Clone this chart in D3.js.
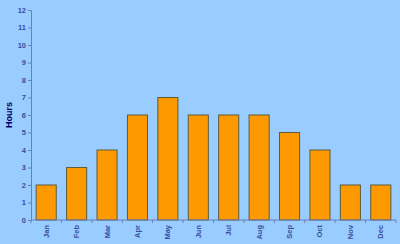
<!DOCTYPE html>
<html>
<head>
<meta charset="utf-8">
<script src="https://cdn.jsdelivr.net/npm/d3@7"></script>
<style>
  body { margin:0; background:#99ccff; }
  svg { display:block; }
</style>
</head>
<body>
<script>
const months=["Jan","Feb","Mar","Apr","May","Jun","Jul","Aug","Sep","Oct","Nov","Dec"]
const hours=[2,3,4,6,7,6,6,6,5,4,2,2]
const yTicks=[0,1,2,3,4,5,6,7,8,9,10,11,12]

const width=400
const height=244
const margin={top:10,right:4,bottom:24,left:31}

const svg=d3.select("body").append("svg")
            .attr("width",width)
            .attr("height",height)
            .style("background","#99ccff")

const x=d3.scaleBand()
          .domain(months)
          .range([margin.left,width-margin.right])
          .paddingInner(0.34)
          .paddingOuter(0.17)

const y=d3.scaleLinear()
          .domain([0,12])
          .range([height-margin.bottom,margin.top])

const axisColor="#6a7fb8"
const textColor="#3a4ea0"

// y axis
const yAxis=svg.append("g")
   .attr("transform",`translate(${margin.left},0)`)
   .call(d3.axisLeft(y).tickValues(yTicks).tickSize(3).tickPadding(2))
yAxis.select(".domain").attr("stroke",axisColor)
yAxis.selectAll(".tick line").attr("stroke",axisColor)
yAxis.selectAll("text")
   .attr("fill",textColor)
   .style("font-family","Arial, 'Liberation Sans', sans-serif")
   .style("font-size","7.5px")
   .style("font-weight","bold")

// bars
svg.selectAll("rect.bar")
   .data(hours)
   .enter()
   .append("rect")
   .attr("class","bar")
   .attr("x",(d,i)=>x(months[i]))
   .attr("y",d=>y(d))
   .attr("width",x.bandwidth())
   .attr("height",d=>y(0)-y(d))
   .attr("fill","#ff9900")
   .attr("stroke","#5e5a3a")
   .attr("stroke-width",1)

// x axis with ticks at category edges
const xg=svg.append("g").attr("transform",`translate(0,${y(0)})`)
xg.append("line")
  .attr("x1",margin.left).attr("x2",width-margin.right)
  .attr("stroke",axisColor)
xg.selectAll("line.tk")
  .data(d3.range(months.length+1))
  .enter()
  .append("line")
  .attr("class","tk")
  .attr("x1",i=>margin.left+i*x.step())
  .attr("x2",i=>margin.left+i*x.step())
  .attr("y1",0).attr("y2",3)
  .attr("stroke",axisColor)
xg.selectAll("text")
  .data(months)
  .enter()
  .append("text")
  .attr("transform",d=>`translate(${x(d)+x.bandwidth()/2+2.5},5) rotate(-90)`)
  .attr("text-anchor","end")
  .attr("fill",textColor)
  .style("font-family","Arial, 'Liberation Sans', sans-serif")
  .style("font-size","7.5px")
  .style("font-weight","bold")
  .text(d=>d)

svg.append("text")
   .attr("transform",`translate(12,${y(6)}) rotate(-90)`)
   .attr("text-anchor","middle")
   .attr("fill","#000066")
   .style("font-family","Arial, 'Liberation Sans', sans-serif")
   .style("font-size","9px")
   .style("font-weight","bold")
   .text("Hours")
</script>
</body>
</html>
